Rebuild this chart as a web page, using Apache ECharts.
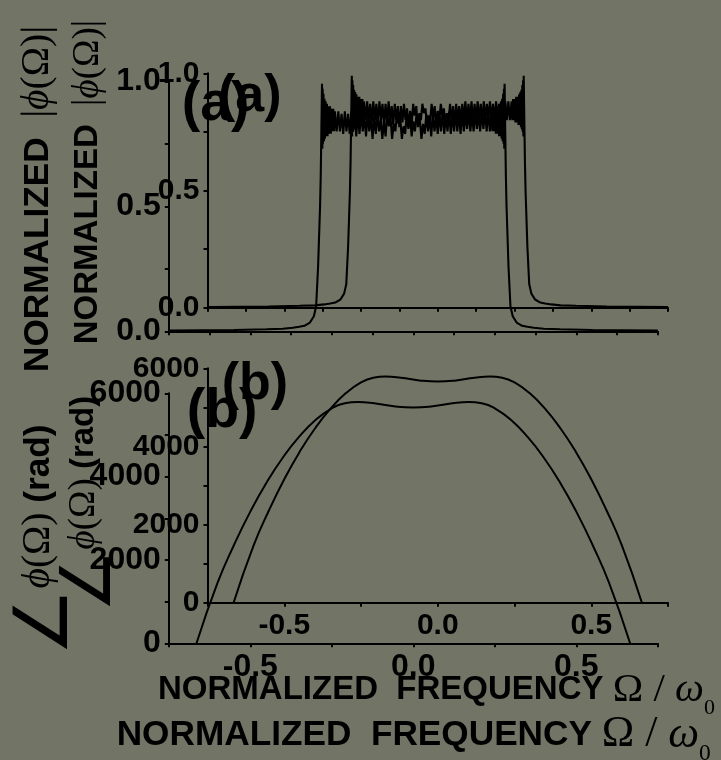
<!DOCTYPE html>
<html>
<head>
<meta charset="utf-8">
<script src="https://cdn.jsdelivr.net/npm/echarts@6.0.0/dist/echarts.min.js"></script>
<style>
  html, body { margin: 0; padding: 0; background: #727566; }
  #chart { width: 721px; height: 760px; }
</style>
</head>
<body>
<div id="chart"></div>
<script>
// ---- data (normalized frequency, value) ----
// |phi(Omega)| : tails outside the band
const ampLeftTail = [
  [-0.75, 0.003], [-0.65, 0.004], [-0.55, 0.005], [-0.45, 0.008], [-0.40, 0.010],
  [-0.37, 0.014], [-0.35, 0.018], [-0.334, 0.022], [-0.317, 0.035], [-0.305, 0.06],
  [-0.298, 0.10], [-0.292, 0.26], [-0.286, 0.50], [-0.284, 0.62], [-0.282, 0.80]
];
// ringing at the left edge
const ampLeftEdge = [
  [-0.2800, 0.99], [-0.2790, 0.73], [-0.2780, 0.97], [-0.2770, 0.75], [-0.2755, 0.95],
  [-0.2740, 0.76], [-0.2725, 0.93], [-0.2710, 0.77], [-0.2690, 0.92], [-0.2670, 0.78],
  [-0.2650, 0.91], [-0.2630, 0.78], [-0.2605, 0.90], [-0.2580, 0.79], [-0.2555, 0.90],
  [-0.2530, 0.79], [-0.2505, 0.89], [-0.2480, 0.80], [-0.2455, 0.89], [-0.2430, 0.80],
  [-0.2405, 0.88]
];
// ringing across the pass band
const ampPassband = [
  [-0.235, 0.80], [-0.230, 0.88], [-0.225, 0.80], [-0.220, 0.87], [-0.215, 0.79],
  [-0.210, 0.88], [-0.205, 0.80], [-0.200, 0.87], [-0.195, 0.79], [-0.190, 0.88],
  [-0.185, 0.80], [-0.180, 0.87], [-0.175, 0.78], [-0.170, 0.87], [-0.165, 0.79],
  [-0.160, 0.88], [-0.155, 0.80], [-0.150, 0.86], [-0.145, 0.78], [-0.140, 0.87],
  [-0.135, 0.80], [-0.130, 0.86], [-0.125, 0.77], [-0.120, 0.86], [-0.115, 0.79],
  [-0.110, 0.87], [-0.105, 0.80], [-0.100, 0.85], [-0.095, 0.77], [-0.090, 0.84],
  [-0.085, 0.78], [-0.080, 0.87], [-0.075, 0.82], [-0.070, 0.86], [-0.065, 0.77],
  [-0.060, 0.83], [-0.055, 0.80], [-0.050, 0.87], [-0.045, 0.83], [-0.040, 0.85],
  [-0.035, 0.77], [-0.030, 0.82], [-0.025, 0.79], [-0.020, 0.87], [-0.015, 0.81],
  [-0.010, 0.86], [-0.005, 0.78], [0.000, 0.84], [0.005, 0.80], [0.010, 0.87],
  [0.015, 0.82], [0.020, 0.85], [0.025, 0.77], [0.030, 0.83], [0.035, 0.79],
  [0.040, 0.87], [0.045, 0.80], [0.050, 0.86], [0.055, 0.78], [0.060, 0.87],
  [0.065, 0.80], [0.070, 0.86], [0.075, 0.79], [0.080, 0.87], [0.085, 0.80],
  [0.090, 0.88], [0.095, 0.79], [0.100, 0.87], [0.105, 0.80], [0.110, 0.88],
  [0.115, 0.79], [0.120, 0.87], [0.125, 0.80], [0.130, 0.88], [0.135, 0.80],
  [0.140, 0.87], [0.145, 0.79], [0.150, 0.88], [0.155, 0.80], [0.160, 0.87],
  [0.165, 0.81], [0.170, 0.88], [0.175, 0.80], [0.180, 0.87], [0.185, 0.80],
  [0.190, 0.88], [0.195, 0.81], [0.200, 0.87], [0.205, 0.80], [0.210, 0.88],
  [0.215, 0.81], [0.220, 0.88], [0.225, 0.80], [0.230, 0.88], [0.235, 0.80]
];
// ringing at the right edge
const ampRightEdge = [
  [0.2405, 0.88], [0.2430, 0.80], [0.2455, 0.89], [0.2480, 0.80], [0.2505, 0.89],
  [0.2530, 0.79], [0.2555, 0.90], [0.2580, 0.79], [0.2605, 0.90], [0.2630, 0.78],
  [0.2650, 0.91], [0.2670, 0.78], [0.2690, 0.92], [0.2710, 0.77], [0.2725, 0.93],
  [0.2740, 0.76], [0.2755, 0.95], [0.2770, 0.75], [0.2780, 0.97], [0.2790, 0.73],
  [0.2800, 0.99]
];
const ampRightTail = [
  [0.282, 0.80], [0.284, 0.62], [0.286, 0.50], [0.292, 0.26], [0.298, 0.10],
  [0.305, 0.06], [0.317, 0.035], [0.334, 0.022], [0.35, 0.018], [0.37, 0.014],
  [0.40, 0.010], [0.45, 0.008], [0.55, 0.005], [0.65, 0.004], [0.75, 0.003]
];
// phase of phi(Omega), rad
const phaseOmega = [-0.665, -0.60, -0.55, -0.50, -0.45, -0.40, -0.35, -0.30, -0.25, -0.21, -0.17, -0.12, -0.06,
  0, 0.06, 0.12, 0.17, 0.21, 0.25, 0.30, 0.35, 0.40, 0.45, 0.50, 0.55, 0.60, 0.665];
const phaseRad = [0, 1460, 2360, 3160, 3860, 4460, 4960, 5360, 5640, 5760, 5790, 5760, 5690,
  5660, 5690, 5760, 5790, 5760, 5640, 5360, 4960, 4460, 3860, 3160, 2360, 1460, 0];

const xTickLabels = [-0.5, 0, 0.5];
const ampTickLabels = [0, 0.5, 1];
const phaseTickLabels = [0, 2000, 4000, 6000];

const ampCurve = [].concat(ampLeftTail, ampLeftEdge, ampPassband, ampRightEdge, ampRightTail);
const phaseCurve = phaseOmega.map((w, i) => [w, phaseRad[i]]);

// ---- layout: the figure appears twice, offset and scaled ----
const SANS = 'Liberation Sans, Arial, sans-serif';
const SERIF = 'Liberation Serif, DejaVu Serif, serif';
const copies = [
  { left: 207.5, width: 460.5, topA: 73.3, topB: 368.3, height: 234.4, s: 1,
    xTitle: [158, 690], aTitle: [88, 182], bTitle: [84, 504], aLab: [218, 97], bLab: [221.7, 384.5] },
  { left: 168.8, width: 489, topA: 81.3, topB: 393.3, height: 250, s: 1.067,
    xTitle: [116.7, 735], aTitle: [38, 199], bTitle: [39, 540], aLab: [181.7, 105], bLab: [186.7, 411.5] }
];

function inList(list, v) {
  return list.some(t => Math.abs(t - v) < 1e-6);
}

const axisLineStyle = { color: '#000', width: 2 };
const grid = [], xAxis = [], yAxis = [], series = [], graphic = [];

copies.forEach(c => {
  const labelFont = { color: '#000', fontSize: 30 * c.s, fontWeight: 'bold', fontFamily: SANS };
  [['a', c.topA], ['b', c.topB]].forEach(([panel, top]) => {
    const g = grid.length;
    grid.push({ left: c.left, top: top, width: c.width, height: c.height, containLabel: false });
    xAxis.push({
      gridIndex: g, type: 'value', min: -0.75, max: 0.75,
      interval: panel === 'a' ? 0.125 : 0.25,
      axisLine: { show: true, onZero: false, lineStyle: axisLineStyle },
      axisTick: { show: true, length: 4, lineStyle: axisLineStyle },
      axisLabel: Object.assign({
        show: panel === 'b', margin: 8,
        formatter: v => inList(xTickLabels, v) ? v.toFixed(1) : ''
      }, labelFont),
      splitLine: { show: false }
    });
    yAxis.push({
      gridIndex: g, type: 'value', min: 0,
      max: panel === 'a' ? 1 : 6000,
      interval: panel === 'a' ? 0.25 : 1000,
      axisLine: { show: true, onZero: false, lineStyle: axisLineStyle },
      axisTick: { show: true, length: 4, lineStyle: axisLineStyle },
      axisLabel: Object.assign({
        margin: 8,
        formatter: panel === 'a'
          ? v => inList(ampTickLabels, v) ? v.toFixed(1) : ''
          : v => inList(phaseTickLabels, v) ? String(v) : ''
      }, labelFont),
      splitLine: { show: false }
    });
    series.push({
      type: 'line', xAxisIndex: g, yAxisIndex: g,
      data: panel === 'a' ? ampCurve : phaseCurve,
      smooth: panel === 'b',
      showSymbol: false, silent: true, animation: false,
      lineStyle: { color: '#000', width: panel === 'a' ? 2.1 : 2 }
    });
  });

  const s = c.s;
  // x-axis title
  graphic.push({
    type: 'text', x: c.xTitle[0], y: c.xTitle[1], silent: true,
    style: {
      text: '{t|NORMALIZED  FREQUENCY }{g|Ω / }{w|ω}{sub|0}',
      align: 'left', verticalAlign: 'middle',
      rich: {
        t: { fontSize: 33 * s, fontWeight: 'bold', fontFamily: SANS, fill: '#000' },
        g: { fontSize: 41 * s, fontFamily: SERIF, fill: '#000' },
        w: { fontSize: 41 * s, fontStyle: 'italic', fontFamily: SERIF, fill: '#000' },
        sub: { fontSize: 22 * s, fontFamily: SERIF, fill: '#000', padding: [36 * s, 0, 0, 0] }
      }
    }
  });
  // y-axis title, panel (a)
  graphic.push({
    type: 'text', x: c.aTitle[0], y: c.aTitle[1], rotation: Math.PI / 2, silent: true,
    style: {
      text: '{t|NORMALIZED  }{g||}{p|ϕ}{g|(Ω)|}',
      align: 'center', verticalAlign: 'middle',
      rich: {
        t: { fontSize: 33 * s, fontWeight: 'bold', fontFamily: SANS, fill: '#000' },
        g: { fontSize: 37 * s, fontFamily: SERIF, fill: '#000' },
        p: { fontSize: 37 * s, fontStyle: 'italic', fontFamily: SERIF, fill: '#000' }
      }
    }
  });
  // y-axis title, panel (b)
  graphic.push({
    type: 'text', x: c.bTitle[0], y: c.bTitle[1], rotation: Math.PI / 2, silent: true,
    style: {
      text: '{ang|∠}{p|ϕ}{g|(Ω)}{t| (rad)}',
      align: 'center', verticalAlign: 'middle',
      rich: {
        ang: { fontSize: 70 * s, fontFamily: 'DejaVu Sans', fill: '#000', padding: [16 * s, 0, 0, 0] },
        t: { fontSize: 33 * s, fontWeight: 'bold', fontFamily: SANS, fill: '#000' },
        g: { fontSize: 37 * s, fontFamily: SERIF, fill: '#000' },
        p: { fontSize: 37 * s, fontStyle: 'italic', fontFamily: SERIF, fill: '#000' }
      }
    }
  });
  // panel labels
  [['(a)', c.aLab], ['(b)', c.bLab]].forEach(([txt, pos]) => {
    graphic.push({
      type: 'text', x: pos[0], y: pos[1], silent: true,
      style: {
        text: txt, align: 'left', verticalAlign: 'middle',
        fontSize: 52 * s, fontWeight: 'bold', fontFamily: SANS, fill: '#000'
      }
    });
  });
});

const chart = echarts.init(document.getElementById('chart'), null, { renderer: 'canvas' });
chart.setOption({
  backgroundColor: '#727566',
  animation: false,
  grid: grid,
  xAxis: xAxis,
  yAxis: yAxis,
  series: series,
  graphic: graphic
});
</script>
</body>
</html>
